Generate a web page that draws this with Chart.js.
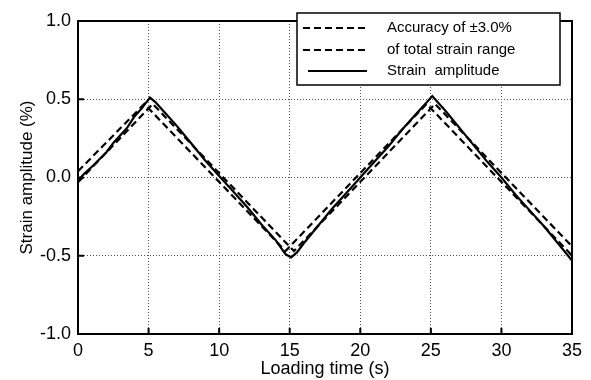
<!DOCTYPE html>
<html>
<head>
<meta charset="utf-8">
<script src="https://cdn.jsdelivr.net/npm/chart.js@4/dist/chart.umd.min.js"></script>
<style>
html,body{margin:0;padding:0;background:#fff;}
#wrap{width:591px;height:380px;}
</style>
</head>
<body>
<div id="wrap"><canvas id="c" width="591" height="380"></canvas></div>
<script>
// ---- data ----
const solidTime = [0,0.4,1,2,2.5,3,3.5,4,4.5,5.1,5.5,6,7,8,9,10,11,12,13,14,14.7,15.1,15.5,16,17,18,19,20,21,22,23,24,24.6,25.1,25.6,26,27,28,29,30,31,32,33,34,35];
const solidStrain = [-0.02,0.02,0.07,0.16,0.22,0.27,0.32,0.39,0.44,0.51,0.48,0.43,0.33,0.22,0.11,0.01,-0.09,-0.19,-0.30,-0.40,-0.49,-0.51,-0.48,-0.42,-0.31,-0.20,-0.10,0.00,0.10,0.20,0.31,0.41,0.47,0.52,0.47,0.43,0.32,0.21,0.10,0.00,-0.11,-0.21,-0.31,-0.42,-0.53];

const upperTime = [0,4.7,14.7,24.7,34.7,35];
const upperStrain = [0.04,0.47,-0.47,0.47,-0.47,-0.50];

const lowerTime = [0,5.3,15.3,25.3,35];
const lowerStrain = [-0.03,0.47,-0.47,0.47,-0.44];

const xTicks = [0,5,10,15,20,25,30,35];
const yTicks = [-1.0,-0.5,0.0,0.5,1.0];

const labels = ["Accuracy of \u00B13.0%", "of total strain range", "Strain  amplitude"];

function pts(t, v){ return t.map((x,i)=>({x:x, y:v[i]})); }

const FONT = "'Liberation Sans', Arial, Helvetica, sans-serif";

const frameAndLegend = {
  id: 'frameAndLegend',
  afterDraw(chart){
    const ctx = chart.ctx, a = chart.chartArea;
    const xs = chart.scales.x, ys = chart.scales.y;
    ctx.save();
    // inner ticks
    ctx.strokeStyle = '#000';
    ctx.lineWidth = 2;
    ctx.beginPath();
    xTicks.forEach(v=>{
      const px = xs.getPixelForValue(v);
      ctx.moveTo(px, a.bottom); ctx.lineTo(px, a.bottom-6);
    });
    yTicks.forEach(v=>{
      const py = ys.getPixelForValue(v);
      ctx.moveTo(a.left, py); ctx.lineTo(a.left+6, py);
    });
    ctx.stroke();
    // frame
    ctx.lineWidth = 2;
    ctx.strokeRect(a.left, a.top, a.right-a.left, a.bottom-a.top);
    // legend box
    const bx = 297, by = 13, bw = 263, bh = 72;
    ctx.fillStyle = '#fff';
    ctx.fillRect(bx, by, bw, bh);
    ctx.lineWidth = 1.5;
    ctx.strokeStyle = '#000';
    ctx.strokeRect(bx, by, bw, bh);
    const rows = [28, 50, 71];
    chart.data.datasets.forEach((ds, i)=>{
      const y = rows[i];
      ctx.beginPath();
      ctx.lineWidth = 2.2;
      ctx.setLineDash(ds.borderDash || []);
      if (ds.borderDash) { ctx.moveTo(303, y); ctx.lineTo(369, y); }
      else { ctx.moveTo(308, y); ctx.lineTo(367, y); }
      ctx.stroke();
      ctx.setLineDash([]);
      ctx.fillStyle = '#000';
      ctx.font = "15px " + FONT;
      ctx.textBaseline = 'middle';
      ctx.textAlign = 'left';
      ctx.fillText(ds.label, 387, y);
    });
    ctx.restore();
  }
};

new Chart(document.getElementById('c'), {
  type: 'line',
  data: {
    datasets: [
      { label: labels[0], data: pts(upperTime, upperStrain), borderColor:'#000', borderWidth:2.2, borderDash:[7,4], pointRadius:0, fill:false, tension:0 },
      { label: labels[1], data: pts(lowerTime, lowerStrain), borderColor:'#000', borderWidth:2.2, borderDash:[7,4], pointRadius:0, fill:false, tension:0 },
      { label: labels[2], data: pts(solidTime, solidStrain), borderColor:'#000', borderWidth:2.2, pointRadius:0, fill:false, tension:0 }
    ]
  },
  options: {
    responsive: false,
    animation: false,
    layout: { padding: { left: 0, right: 19, top: 21, bottom: 0 } },
    plugins: { legend: { display: false }, tooltip: { enabled: false } },
    scales: {
      x: {
        type: 'linear', min: 0, max: 35,
        afterBuildTicks(s){ s.ticks = xTicks.map(v=>({value:v})); },
        afterFit(s){ s.height = 46; },
        ticks: { color:'#000', font:{ family: FONT, size:18 }, padding: 6, maxRotation:0,
                 callback: v => String(v) },
        grid: { color:'#555', lineWidth:1, drawTicks:false },
        border: { display:false, dash:[1,2] },
        title: { display:true, text:'Loading time (s)', color:'#000', font:{ family: FONT, size:18 }, padding:{top:0,bottom:0} }
      },
      y: {
        type: 'linear', min: -1, max: 1,
        afterBuildTicks(s){ s.ticks = yTicks.map(v=>({value:v})); },
        afterFit(s){ s.width = 78; },
        ticks: { color:'#000', font:{ family: FONT, size:18 }, padding: 7,
                 callback: v => Number(v).toFixed(1) },
        grid: { color:'#555', lineWidth:1, drawTicks:false },
        border: { display:false, dash:[1,2] },
        title: { display:true, text:'Strain amplitude (%)', color:'#000', font:{ family: FONT, size:17 }, padding:{top:17,bottom:0} }
      }
    }
  },
  plugins: [frameAndLegend]
});
</script>
</body>
</html>
